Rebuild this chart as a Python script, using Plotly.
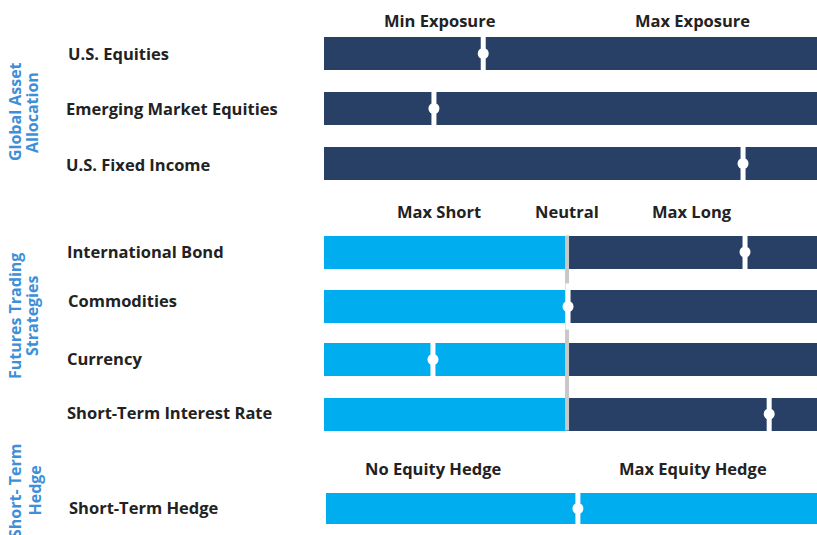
import plotly.graph_objects as go

# ---------------- data ----------------
alloc_names = ["U.S. Equities", "Emerging Market Equities", "U.S. Fixed Income"]
alloc_values = [32.3, 22.3, 85.0]          # position on 0-100 (min -> max exposure)

futures_names = ["International Bond", "Commodities", "Currency", "Short-Term Interest Rate"]
futures_values = [85.4, 49.5, 22.1, 90.3]  # position on 0-100 (max short -> max long)
NEUTRAL = 49.3

hedge_names = ["Short-Term Hedge"]
hedge_values = [51.5]                      # position on 0-100 (no hedge -> max hedge)

section_titles = [["Global Asset", "Allocation"],
                  ["Futures Trading", "Strategies"],
                  ["Short- Term", "Hedge"]]
alloc_headers = ["Min Exposure", "Max Exposure"]
futures_headers = ["Max Short", "Neutral", "Max Long"]
hedge_headers = ["No Equity Hedge", "Max Equity Hedge"]

# ---------------- layout constants ----------------
W, H = 817, 535
NAVY = "#283f66"
CYAN = "#00adee"
TXT = "#222222"
BLUE = "#3d8fd8"
FONT = "Open Sans"
BAR_H = 33
FS = 16.5


def px(x):
    """page pixel -> paper x"""
    return x / W


alloc_y = [53.5, 108.5, 163.5]
futures_y = [252, 306.5, 359.5, 414]
hedge_y = [508.5]
label_y = [53.3, 108.3, 164.5, 251.7, 300, 358.3, 412.3, 507.7]
label_x = [66, 64, 64, 65, 66, 65, 65, 67]

fig = go.Figure()

fig.add_trace(go.Bar(orientation="h", y=alloc_y, x=[100] * len(alloc_y), base=[0] * len(alloc_y),
                     width=BAR_H, marker=dict(color=NAVY, line=dict(width=0)), hoverinfo="skip"))
fig.add_trace(go.Bar(orientation="h", y=futures_y, x=[NEUTRAL] * len(futures_y), base=[0] * len(futures_y),
                     width=BAR_H, marker=dict(color=CYAN, line=dict(width=0)), hoverinfo="skip"))
fig.add_trace(go.Bar(orientation="h", y=futures_y, x=[100 - NEUTRAL] * len(futures_y),
                     base=[NEUTRAL] * len(futures_y),
                     width=BAR_H, marker=dict(color=NAVY, line=dict(width=0)), hoverinfo="skip"))
fig.add_trace(go.Bar(orientation="h", y=hedge_y, x=[99.6], base=[0.4],
                     width=BAR_H - 2, marker=dict(color=CYAN, line=dict(width=0)), hoverinfo="skip"))

fig.add_trace(go.Scatter(x=[NEUTRAL, NEUTRAL], y=[futures_y[0] - 16.5, futures_y[-1] + 16.5],
                         mode="lines", line=dict(color="#c8c8c8", width=4), hoverinfo="skip"))

all_vals = alloc_values + futures_values + hedge_values
all_y = alloc_y + futures_y + hedge_y
fig.add_trace(go.Scatter(x=all_vals, y=all_y, mode="markers",
                         marker=dict(symbol="line-ns", size=BAR_H, color="white",
                                     line=dict(color="white", width=5)), hoverinfo="skip"))
fig.add_trace(go.Scatter(x=all_vals, y=all_y, mode="markers",
                         marker=dict(symbol="circle", size=11, color="white",
                                     line=dict(width=0)), hoverinfo="skip"))

ann = []
for name, y, lx in zip(alloc_names + futures_names + hedge_names, label_y, label_x):
    ann.append(dict(text="<b>%s</b>" % name, xref="paper", yref="y", x=px(lx), y=y,
                    xanchor="left", yanchor="middle", showarrow=False,
                    font=dict(family=FONT, size=FS, color=TXT)))

for lines, yc, xs in zip(section_titles, [112, 316, 491], [(15, 32), (15, 32), (15, 34.5)]):
    for t, xc in zip(lines, xs):
        ann.append(dict(text="<b>%s</b>" % t, xref="paper", yref="y", x=px(xc), y=yc,
                        xanchor="center", yanchor="middle", showarrow=False, textangle=-90,
                        font=dict(family=FONT, size=16, color=BLUE)))


def header(txt, x, y):
    ann.append(dict(text="<b>%s</b>" % txt, xref="x", yref="y", x=x, y=y,
                    xanchor="center", yanchor="middle", showarrow=False,
                    font=dict(family=FONT, size=FS, color=TXT)))


header(alloc_headers[0], 23.5, 20)
header(alloc_headers[1], 74.8, 20)
header(futures_headers[0], 23.3, 211)
header(futures_headers[1], NEUTRAL, 211)
header(futures_headers[2], 74.6, 211)
header(hedge_headers[0], 22.1, 468)
header(hedge_headers[1], 74.8, 468)

fig.update_layout(
    width=W, height=H, margin=dict(l=0, r=0, t=0, b=0),
    paper_bgcolor="white", plot_bgcolor="white",
    showlegend=False, barmode="overlay", bargap=0,
    xaxis=dict(domain=[px(324), 1], range=[0, 100], visible=False, fixedrange=True),
    yaxis=dict(range=[H, 0], visible=False, fixedrange=True),
    annotations=ann,
    font=dict(family=FONT),
    hovermode=False,
)

fig.write_html("out.html",
               config={"displayModeBar": False},
               post_script="document.body.style.margin='0';document.body.style.overflow='hidden';")
